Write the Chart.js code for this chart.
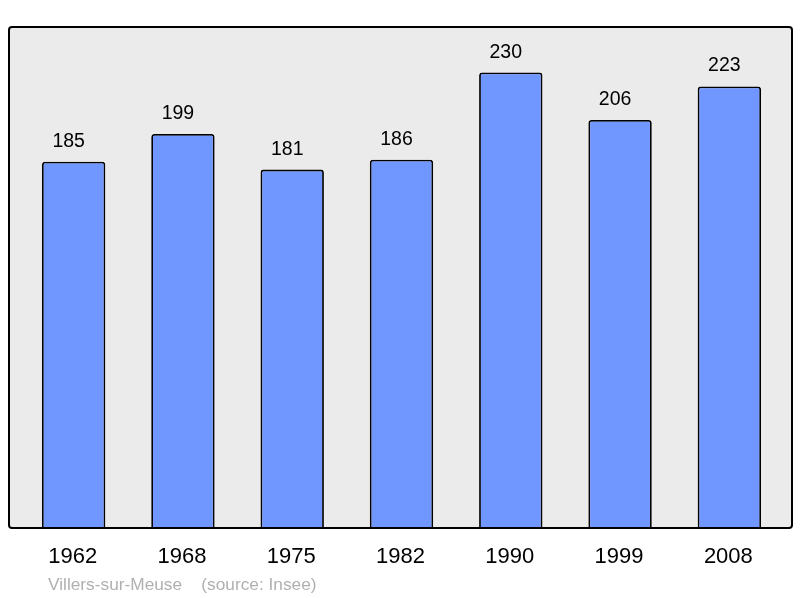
<!DOCTYPE html>
<html>
<head>
<meta charset="utf-8">
<script src="https://cdn.jsdelivr.net/npm/chart.js"></script>
<style>
  body { margin: 0; background: #fff; }
  canvas { display: block; }
</style>
</head>
<body>
<canvas id="popChart" width="800" height="598"></canvas>
<script>
// data
const years = ['1962', '1968', '1975', '1982', '1990', '1999', '2008'];
const population = [185, 199, 181, 186, 230, 206, 223];
const footerText = 'Villers-sur-Meuse    (source: Insee)';

const FONT = '"Liberation Sans", Arial, sans-serif';

// grey frame behind the bars, value labels and footer caption
const framePlugin = {
  id: 'frame',
  beforeDraw(chart) {
    const { ctx, chartArea: a } = chart;
    const x0 = a.left - 10, x1 = a.right + 8;
    ctx.save();
    ctx.beginPath();
    ctx.roundRect(x0, a.top, x1 - x0, a.bottom - a.top, 3);
    ctx.fillStyle = '#ebebeb';
    ctx.fill();
    ctx.restore();
  },
  afterDatasetsDraw(chart) {
    const { ctx, chartArea: a } = chart;
    const x0 = a.left - 10, x1 = a.right + 8;
    ctx.save();
    ctx.beginPath();
    ctx.roundRect(x0, a.top, x1 - x0, a.bottom - a.top, 3);
    ctx.lineWidth = 2;
    ctx.strokeStyle = '#000';
    ctx.stroke();

    // value labels above each bar (sit a little left of centre in the original)
    ctx.fillStyle = '#000';
    ctx.font = '19.5px ' + FONT;
    ctx.textAlign = 'center';
    ctx.textBaseline = 'alphabetic';
    chart.getDatasetMeta(0).data.forEach((bar, i) => {
      ctx.fillText(String(population[i]), bar.x - 5, bar.y - 15);
    });

    ctx.fillStyle = '#b0b0b0';
    ctx.font = '17.3px ' + FONT;
    ctx.textAlign = 'left';
    ctx.fillText(footerText, 48, 590);
    ctx.restore();
  }
};

const ctx = document.getElementById('popChart').getContext('2d');
new Chart(ctx, {
  type: 'bar',
  data: {
    labels: years,
    datasets: [{
      data: population,
      backgroundColor: '#7096ff',
      borderColor: '#000',
      borderWidth: 1.8,
      borderSkipped: 'bottom',
      borderRadius: 3,
      barPercentage: 0.58,
      categoryPercentage: 1
    }]
  },
  options: {
    responsive: false,
    animation: false,
    devicePixelRatio: 1,
    layout: { padding: { left: 19, right: 16, top: 27, bottom: 0 } },
    plugins: { legend: { display: false }, tooltip: { enabled: false } },
    scales: {
      y: { display: false, min: 0, max: 253 },
      x: {
        grid: { display: false, drawTicks: false },
        border: { display: false },
        ticks: {
          color: '#000',
          padding: 16,
          labelOffset: -1,
          font: { size: 22, family: FONT }
        },
        afterFit(scale) { scale.height = 70; }
      }
    }
  },
  plugins: [framePlugin]
});
</script>
</body>
</html>
